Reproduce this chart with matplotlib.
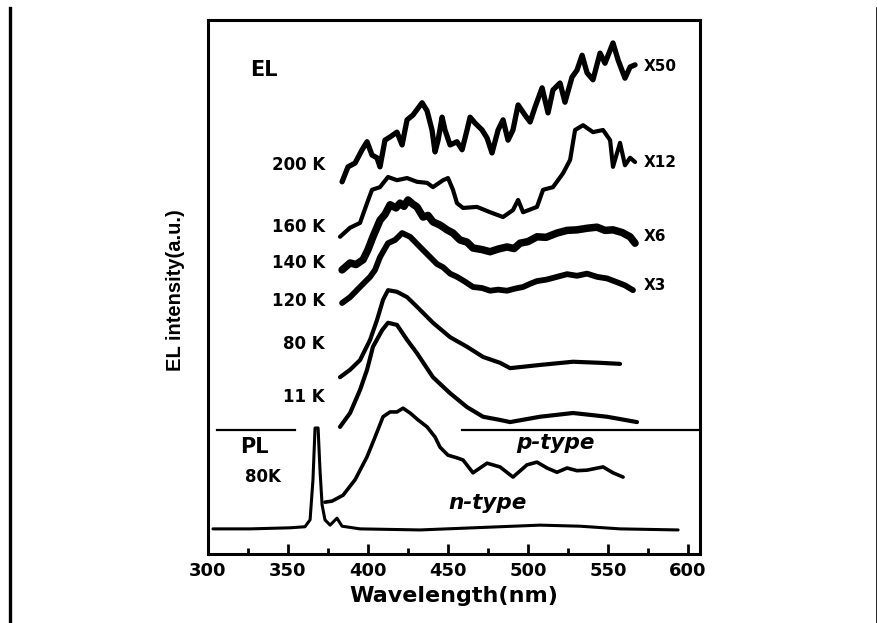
import matplotlib
matplotlib.use("Agg")
import matplotlib.pyplot as plt
from matplotlib.lines import Line2D
from matplotlib.ticker import MultipleLocator, NullLocator

plt.rcParams['font.family'] = ['DejaVu Sans']

# ---- data (wavelength nm, intensity a.u.) ----
wl_200K = [383.8, 387.5, 391.9, 396.3, 399.4, 402.5, 405.6, 407.5, 410.6, 413.8, 418.1, 421.3,
           424.4, 428.1, 433.8, 436.9, 440.0, 441.9, 443.8, 446.3, 448.1, 451.3, 455.6, 458.8,
           461.9, 463.8, 466.9, 471.3, 474.4, 477.5, 481.3, 484.4, 487.5, 490.6, 493.8, 498.1,
           501.3, 504.4, 508.8, 512.5, 515.6, 520.0, 523.1, 527.5, 530.6, 533.8, 536.9, 540.6,
           545.0, 548.1, 553.1, 556.3, 560.6, 563.8, 566.9]
I_200K = [69.7, 72.5, 73.2, 75.7, 77.2, 74.7, 74.2, 72.5, 77.5, 78.1, 79.0, 76.6,
          81.3, 82.2, 84.5, 83.0, 79.4, 75.3, 77.5, 81.8, 79.4, 76.6, 77.2, 75.7,
          79.4, 81.8, 80.7, 79.4, 77.9, 75.1, 79.4, 81.3, 77.5, 79.4, 84.1, 82.2,
          80.9, 83.7, 87.3, 82.6, 86.9, 88.2, 84.6, 89.3, 90.6, 93.4, 90.1, 88.8,
          93.8, 91.9, 95.7, 92.5, 89.1, 91.2, 91.6]

wl_160K = [382.5, 388.8, 395.0, 399.4, 402.5, 407.5, 412.5, 418.1, 424.4, 430.6, 436.9, 440.6,
           446.9, 450.0, 453.1, 455.6, 459.4, 468.1, 476.3, 484.4, 490.6, 493.8, 496.9, 505.6,
           509.4, 515.6, 521.9, 526.3, 529.4, 534.4, 540.6, 546.9, 551.3, 553.1, 557.5, 560.6,
           563.8, 566.9]
I_160K = [59.4, 61.1, 62.0, 65.7, 68.2, 68.7, 70.6, 70.0, 70.4, 69.7, 69.5, 68.7,
          70.0, 70.4, 68.2, 65.7, 64.8, 65.0, 64.0, 63.1, 64.4, 66.3, 64.0, 65.0,
          68.2, 68.7, 71.3, 73.8, 79.4, 80.3, 79.0, 79.4, 77.5, 72.5, 77.0, 72.8,
          74.2, 73.4]

wl_140K = [383.8, 388.8, 392.5, 396.9, 400.0, 403.1, 407.5, 410.6, 413.8, 417.5, 420.0, 422.5,
           425.0, 428.1, 430.6, 434.4, 437.5, 440.6, 445.0, 449.4, 453.1, 457.5, 461.9, 465.6,
           471.3, 476.3, 481.3, 486.9, 491.3, 495.0, 500.0, 505.6, 511.3, 518.1, 524.4, 530.6,
           536.9, 543.1, 548.1, 553.1, 558.8, 563.8, 566.9]
I_140K = [53.2, 54.5, 54.2, 55.1, 57.0, 59.4, 62.5, 63.6, 65.4, 64.8, 65.7, 65.1,
          66.3, 65.5, 65.0, 63.1, 63.4, 62.2, 61.6, 60.7, 60.1, 58.8, 58.4, 57.3,
          57.0, 56.6, 57.1, 57.5, 57.2, 58.2, 58.5, 59.4, 59.3, 60.1, 60.6, 60.7,
          61.0, 61.2, 60.6, 60.7, 60.2, 59.4, 58.2]

wl_120K = [383.8, 388.8, 395.0, 401.3, 404.4, 407.5, 412.5, 416.9, 421.3, 426.3, 432.5, 438.8,
           443.1, 446.9, 451.3, 455.6, 460.6, 465.6, 471.3, 476.3, 481.3, 486.9, 491.9, 496.9,
           501.3, 505.6, 511.9, 518.1, 524.4, 530.6, 536.9, 543.1, 549.4, 555.6, 560.6, 565.6]
I_120K = [47.0, 48.1, 50.0, 51.9, 53.2, 55.6, 58.2, 58.8, 60.1, 59.4, 57.5, 55.6,
          54.3, 53.7, 52.5, 51.9, 51.0, 50.0, 49.8, 49.3, 49.5, 49.3, 49.7, 50.0,
          50.6, 51.1, 51.4, 51.9, 52.4, 52.1, 52.5, 51.9, 51.6, 50.9, 50.3, 49.4]

wl_80K = [382.5, 388.8, 395.0, 401.3, 405.6, 409.4, 412.5, 418.1, 424.4, 430.6, 440.6, 451.3,
          461.9, 471.9, 482.5, 488.8, 507.5, 528.1, 545.0, 557.5]
I_80K = [33.1, 34.5, 36.3, 40.1, 43.8, 47.6, 49.4, 49.1, 48.1, 46.3, 43.3, 40.6,
         38.8, 36.9, 35.8, 34.8, 35.4, 36.0, 35.8, 35.6]

wl_11K = [382.5, 388.8, 395.0, 399.4, 403.1, 408.8, 412.5, 418.1, 424.4, 430.6, 440.6, 451.3,
          461.9, 471.9, 482.5, 488.8, 507.5, 528.1, 549.4, 568.1]
I_11K = [23.8, 26.4, 30.7, 34.5, 38.8, 41.9, 43.3, 42.9, 40.1, 37.6, 33.1, 30.1,
         27.5, 25.7, 25.1, 24.7, 25.7, 26.4, 25.7, 24.7]

wl_ntype = [373.1, 377.5, 384.4, 391.9, 399.4, 404.4, 409.4, 413.8, 418.1, 421.9, 426.3, 431.3,
            436.9, 441.9, 445.0, 450.0, 455.6, 459.4, 465.6, 474.4, 482.5, 490.6, 499.4, 505.6,
            511.9, 518.1, 524.4, 530.6, 536.9, 546.9, 553.1, 559.4]
I_ntype = [9.7, 9.9, 11.0, 13.9, 18.2, 21.9, 25.7, 26.6, 26.6, 27.3, 26.4, 25.1,
           23.8, 21.9, 20.0, 18.5, 18.0, 17.6, 15.2, 17.0, 16.3, 14.4, 16.7, 17.2,
           16.1, 15.3, 16.1, 15.6, 15.7, 16.3, 15.2, 14.4]

wl_PL = [303.1, 326.3, 351.3, 360.6, 363.8, 365.6, 366.9, 368.8, 370.0, 371.3, 373.1, 376.3,
         380.6, 383.8, 395.0, 432.5, 482.5, 507.5, 532.5, 557.5, 593.8]
I_PL = [4.7, 4.7, 4.9, 5.1, 6.4, 13.9, 23.6, 23.6, 15.7, 9.2, 6.4, 5.4,
        6.7, 5.2, 4.7, 4.5, 5.1, 5.4, 5.2, 4.7, 4.5]

temp_labels = ["200 K", "160 K", "140 K", "120 K", "80 K", "11 K"]
temp_label_y = [72.8, 61.2, 54.5, 47.4, 39.3, 29.4]
scale_labels = ["X50", "X12", "X6", "X3"]
scale_label_y = [91.2, 73.4, 59.4, 50.2]
xticks_major = [300, 350, 400, 450, 500, 550, 600]

# ---- figure ----
fig = plt.figure(figsize=(8.78, 6.23), dpi=100)
ax = fig.add_axes([0.2369, 0.1108, 0.5604, 0.8571])

series = [
    (wl_200K, I_200K, 3.8),
    (wl_160K, I_160K, 3.0),
    (wl_140K, I_140K, 5.4),
    (wl_120K, I_120K, 4.2),
    (wl_80K, I_80K, 3.0),
    (wl_11K, I_11K, 3.0),
    (wl_ntype, I_ntype, 2.6),
    (wl_PL, I_PL, 2.2),
]
for x, y, lw in series:
    ax.plot(x, y, color='black', lw=lw, solid_joinstyle='round', solid_capstyle='round')

# separator lines between p-type and n-type
sep_y = 23.3
ax.plot([305.6, 354.4], [sep_y, sep_y], color='black', lw=1.6)
ax.plot([458.8, 607.5], [sep_y, sep_y], color='black', lw=1.6)

ax.set_xlim(300, 607.5)
ax.set_ylim(0, 100)

for sp in ax.spines.values():
    sp.set_linewidth(2.2)

ax.set_xticks(xticks_major)
ax.xaxis.set_minor_locator(MultipleLocator(25))
ax.set_xticklabels([str(t) for t in xticks_major], fontweight='bold', fontsize=13)
ax.tick_params(axis='x', which='major', direction='in', length=7, width=2, pad=6)
ax.tick_params(axis='x', which='minor', direction='in', length=4, width=2)
ax.yaxis.set_major_locator(NullLocator())
ax.yaxis.set_minor_locator(NullLocator())

ax.set_xlabel("Wavelength(nm)", fontsize=16, fontweight='bold', labelpad=4)
ax.set_ylabel("EL intensity(a.u.)", fontsize=14.5, fontweight='bold',
              family=['Liberation Sans', 'DejaVu Sans'])
ax.yaxis.set_label_coords(-0.047, 0.495)

# annotations
ax.text(326.3, 90.6, "EL", fontsize=15, fontweight='bold', ha='left', va='center')
for lab, yy in zip(temp_labels, temp_label_y):
    ax.text(373.1, yy, lab, fontsize=12, fontweight='bold', ha='right', va='center')
for lab, yy in zip(scale_labels, scale_label_y):
    ax.text(572.0, yy, lab, fontsize=11, fontweight='bold', ha='left', va='center')
ax.text(320.0, 20.0, "PL", fontsize=15, fontweight='bold', ha='left', va='center')
ax.text(323.1, 14.4, "80K", fontsize=12, fontweight='bold', ha='left', va='center')
ax.text(516.9, 20.8, "p-type", fontsize=15.5, fontweight='bold', style='italic', ha='center', va='center')
ax.text(474.4, 9.6, "n-type", fontsize=15.5, fontweight='bold', style='italic', ha='center', va='center')

# page border lines
fig.add_artist(Line2D([10 / 878, 10 / 878], [0, 1 - 8 / 623], color='black', lw=2.4,
                      transform=fig.transFigure))
fig.add_artist(Line2D([877 / 878, 877 / 878], [0, 1 - 8 / 623], color='black', lw=1.2,
                      transform=fig.transFigure))

fig.savefig("out.png", dpi=100)
